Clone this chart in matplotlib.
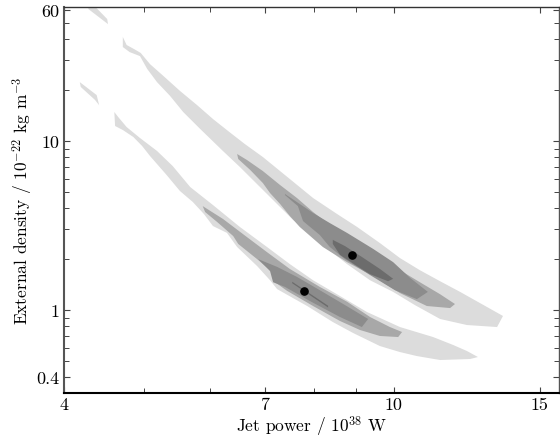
import matplotlib
matplotlib.use('Agg')
import matplotlib.pyplot as plt
from matplotlib.ticker import FixedLocator, FixedFormatter, LogLocator, NullFormatter

plt.rcParams['font.family'] = 'serif'
plt.rcParams['font.serif'] = ['cmr10']
plt.rcParams['mathtext.fontset'] = 'cm'
plt.rcParams['axes.unicode_minus'] = False

# credible regions, upper source (outer -> inner)
a1_x = [4.71, 4.76, 4.86, 4.95, 5.08, 5.27, 5.52, 5.79, 6.05, 6.31, 6.61, 6.95, 7.49, 7.99, 8.54, 9.03,
        9.62, 10.17, 10.75, 11.37, 12.02, 12.70, 13.54,
        13.32, 12.25, 11.37, 10.60, 9.98, 9.36, 8.78, 8.21, 7.92, 7.56, 7.29, 7.03, 6.52, 6.22, 5.84,
        5.57, 5.37, 5.18, 5.04, 4.94, 4.80, 4.71]
a1_y = [41.3, 37.0, 35.0, 33.2, 28.5, 24.3, 19.8, 16.3, 13.5, 11.46, 9.60, 8.04, 5.96, 4.60, 3.70, 3.10,
        2.49, 2.03, 1.72, 1.48, 1.28, 1.10, 0.922,
        0.793, 0.815, 0.885, 1.07, 1.28, 1.50, 1.87, 2.42, 2.93, 3.41, 4.07, 4.86, 7.02, 8.73, 11.78,
        14.85, 18.5, 22.3, 26.7, 31.8, 33.6, 36.0]
a2_x = [6.47, 6.65, 6.95, 7.29, 7.64, 7.99, 8.37, 8.78, 9.44, 10.17, 10.75, 11.37, 11.85,
        11.69, 10.96, 10.17, 9.44, 8.78, 8.21, 7.70, 7.49, 7.29, 7.09, 6.95, 6.71, 6.49]
a2_y = [8.38, 7.72, 6.64, 5.49, 4.60, 3.80, 3.18, 2.74, 2.20, 1.72, 1.46, 1.24, 1.085,
        1.027, 1.056, 1.26, 1.59, 1.92, 2.36, 3.10, 3.60, 4.24, 4.92, 5.64, 6.74, 7.83]
a3_x = [7.39, 7.70, 7.99, 8.37, 8.78, 9.44, 9.98, 10.46, 10.99,
        10.66, 10.03, 9.36, 8.73, 8.37, 8.14, 7.77, 7.66, 7.39]
a3_y = [4.86, 4.24, 3.75, 3.27, 2.86, 2.30, 1.92, 1.55, 1.28,
        1.16, 1.31, 1.61, 2.00, 2.36, 2.78, 3.36, 4.12, 4.79]
a4_x = [8.44, 8.73, 9.15, 9.62, 9.98, 9.84, 9.36, 8.98, 8.61, 8.44]
a4_y = [2.60, 2.39, 2.06, 1.75, 1.53, 1.48, 1.63, 1.85, 2.12, 2.46]

# credible regions, lower source
b1_x = [4.60, 4.65, 4.76, 4.94, 5.18, 5.41, 5.68, 6.05, 6.52, 7.03, 7.49, 7.99, 8.61, 9.28, 10.17,
        11.15, 11.79, 12.25, 12.63,
        12.36, 11.37, 10.66, 10.17, 9.62, 8.93, 8.44, 7.86, 7.23, 7.09, 6.84, 6.47, 6.29, 6.05, 5.90,
        5.72, 5.52, 5.32, 5.08, 4.97, 4.85, 4.71, 4.61]
b1_y = [14.85, 13.87, 12.1, 10.42, 8.73, 7.11, 5.34, 4.18, 3.10, 2.36, 1.87, 1.50, 1.21, 0.973, 0.793,
        0.692, 0.621, 0.572, 0.527,
        0.513, 0.506, 0.534, 0.564, 0.612, 0.731, 0.849, 1.056, 1.33, 1.50, 1.82, 2.36, 2.86, 3.14, 3.70,
        4.36, 5.06, 6.29, 8.15, 9.34, 10.56, 11.62, 12.27]
b2_x = [5.88, 6.22, 6.65, 7.03, 7.49, 8.14, 8.78, 9.36, 9.89, 10.23,
        10.12, 9.62, 9.10, 8.61, 7.99, 7.43, 7.19, 7.13, 6.84, 6.49, 6.40, 6.12, 5.92]
b2_y = [4.12, 3.46, 2.70, 2.20, 1.75, 1.37, 1.12, 0.909, 0.793, 0.741,
        0.692, 0.702, 0.762, 0.861, 1.056, 1.30, 1.46, 1.68, 2.00, 2.46, 2.74, 3.32, 3.80]
b3_x = [6.86, 7.23, 7.64, 8.14, 8.73, 9.31, 9.15, 8.61, 7.92, 7.39, 7.15, 7.09]
b3_y = [2.00, 1.80, 1.57, 1.31, 1.07, 0.885, 0.793, 0.909, 1.13, 1.37, 1.46, 1.70]
b4_x = [7.54, 8.33, 8.33, 7.54]
b4_y = [1.47, 1.06, 1.035, 1.44]

# detached fragments of the outer region
s1_x = [4.28, 4.36, 4.51, 4.52, 4.47, 4.28]
s1_y = [62.5, 62.5, 52.7, 49.2, 51.3, 60.4]
s2_x = [4.18, 4.38, 4.41, 4.36, 4.19]
s2_y = [22.3, 18.7, 16.3, 17.5, 20.9]

# best-fit points
peak_x = [8.90, 7.80]
peak_y = [2.11, 1.30]

shades = ['#dcdcdc', '#a8a8a8', '#8c8c8c', '#6c6c6c']

fig = plt.figure(figsize=(5.6, 4.39), dpi=100)
ax = fig.add_axes([64 / 560, 45 / 439, 495 / 560, 386 / 439])
ax.set_xscale('log')
ax.set_yscale('log')

for xs, ys, c in [(s1_x, s1_y, shades[0]), (s2_x, s2_y, shades[0]),
                  (a1_x, a1_y, shades[0]), (b1_x, b1_y, shades[0]),
                  (a2_x, a2_y, shades[1]), (b2_x, b2_y, shades[1]),
                  (a3_x, a3_y, shades[2]), (b3_x, b3_y, shades[2]),
                  (a4_x, a4_y, shades[3]), (b4_x, b4_y, shades[3])]:
    ax.fill(xs, ys, color=c, lw=0)

ax.plot(peak_x, peak_y, 'o', color='black', ms=5.2, zorder=5)

ax.set_xlim(4, 15.82)
ax.set_ylim(0.3228, 62.1)

ax.xaxis.set_major_locator(FixedLocator([4, 7, 10, 15]))
ax.xaxis.set_major_formatter(FixedFormatter(['4', '7', '10', '15']))
ax.xaxis.set_minor_locator(FixedLocator([5, 6, 8, 9]))
ax.xaxis.set_minor_formatter(NullFormatter())
ax.yaxis.set_major_locator(FixedLocator([0.4, 1, 10, 60]))
ax.yaxis.set_major_formatter(FixedFormatter(['0.4', '1', '10', '60']))
ax.yaxis.set_minor_locator(LogLocator(base=10, subs=range(2, 10), numticks=20))
ax.yaxis.set_minor_formatter(NullFormatter())

ax.tick_params(which='both', direction='in', top=True, right=True, colors='#444444',
               labelcolor='black', labelsize=13)
ax.tick_params(which='major', length=4.5, width=0.8, pad=3)
ax.tick_params(which='minor', length=3.6, width=0.7)

ax.spines['left'].set_linewidth(1.5)
ax.spines['left'].set_color('#555555')
ax.spines['bottom'].set_linewidth(1.5)
ax.spines['bottom'].set_color('black')
ax.spines['top'].set_linewidth(1.0)
ax.spines['top'].set_color('#333333')
ax.spines['right'].set_linewidth(1.0)
ax.spines['right'].set_color('#555555')

ax.set_xlabel(r'Jet power / $10^{38}$ W', fontsize=12.5, labelpad=1)
ax.set_ylabel(r'External density / $10^{-22}$ kg m$^{-3}$', fontsize=12.5, labelpad=1)

fig.savefig('out.png', dpi=100)
